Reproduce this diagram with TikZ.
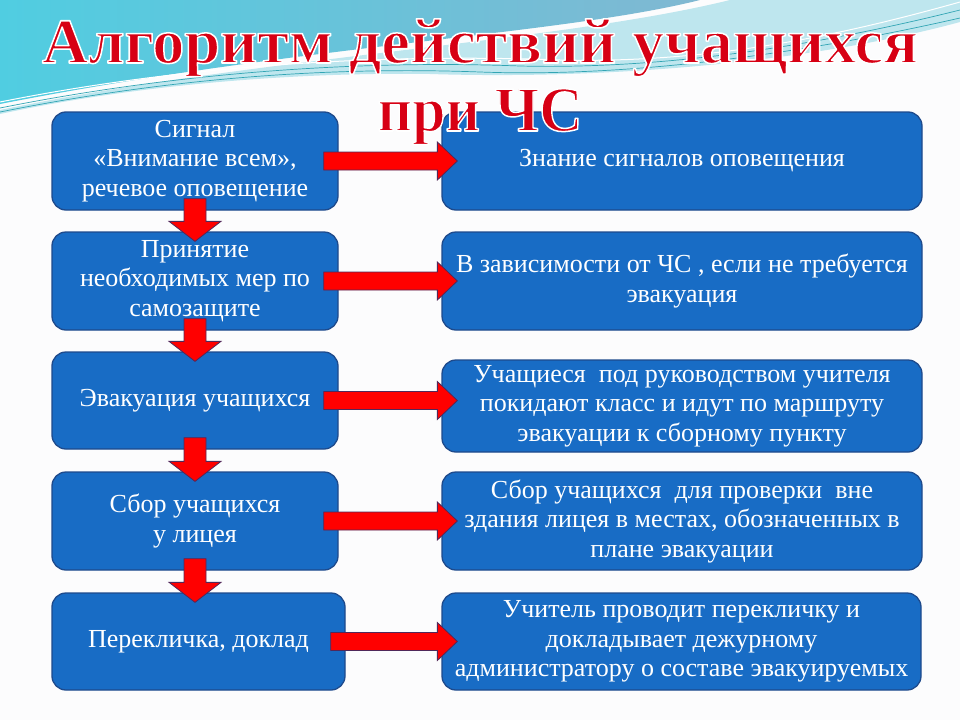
\documentclass[tikz,border=0pt]{standalone}
\usepackage{fontspec}
\setmainfont{Liberation Serif}
\newfontfamily\titlefont{Liberation Serif}
\usetikzlibrary{calc}
\definecolor{bgwhite}{RGB}{252,252,253}
\definecolor{boxblue}{RGB}{24,108,197}
\definecolor{boxedge}{RGB}{30,74,140}
\definecolor{arrred}{RGB}{255,0,0}
\definecolor{arredge}{RGB}{80,40,90}
\definecolor{titlered}{RGB}{215,0,20}
\definecolor{skyA}{RGB}{128,184,210}
\definecolor{skyB}{RGB}{80,205,225}
\definecolor{skyC}{RGB}{190,230,238}
\definecolor{tealline}{RGB}{50,165,180}
\newcommand\outlined[1]{\special{pdf:literal direct 2 Tr 1.5 w 1 1 1 RG 1 j}#1\special{pdf:literal direct 0 Tr}}
\newcommand\hArrow[2]{\path let \p1=(#1.east), \p2=(#2.west) in [fatarrow]
  (\x1-15,\y1+9) -- (\x2-4,\y1+9) -- (\x2-4,\y1+19) -- (\x2+16,\y1) -- (\x2-4,\y1-19) -- (\x2-4,\y1-9) -- (\x1-15,\y1-9) -- cycle;}
\newcommand\vArrow[2]{\path let \p1=(#1.south), \p2=(#2.north) in [fatarrow]
  (\x1-11,\y1+12) -- (\x1-11,\y2+10) -- (\x1-26,\y2+10) -- (\x1,\y2-10) -- (\x1+26,\y2+10) -- (\x1+11,\y2+10) -- (\x1+11,\y1+12) -- cycle;}
\begin{document}
\begin{tikzpicture}[x=1pt,y=-1pt,
  box/.style={rectangle, rounded corners=14pt, fill=boxblue, draw=boxedge, line width=1.3pt,
    text=white, align=center, inner sep=2pt, font=\fontsize{26}{29.5}\selectfont},
  lbox/.style={box, minimum width=286pt, minimum height=98pt},
  rbox/.style={box, minimum width=480pt, minimum height=98pt},
  fatarrow/.style={fill=arrred, draw=arredge, line width=0.8pt, line join=miter},
  swoosh/.style={draw=tealline, line width=0.7pt},
  ttl/.style={font=\titlefont\bfseries\fontsize{64}{68}\selectfont, inner sep=0pt, anchor=base, text=titlered}]
\useasboundingbox (0,0) rectangle (960,720);
\fill[bgwhite] (0,0) rectangle (960,720);
% background swooshes
\shade[left color=skyB, right color=skyA] (0,0) -- (700,0) .. controls (560,35) and (300,45) .. (0,104) -- cycle;
\fill[skyC] (730,0) -- (960,0) -- (960,22) .. controls (820,60) and (620,80) .. (430,74) .. controls (300,72) and (140,84) .. (0,114) -- (0,110) .. controls (250,58) and (560,42) .. (730,0) -- cycle;
\draw[swoosh] (0,112) .. controls (160,80) and (320,66) .. (480,72) .. controls (640,78) and (820,50) .. (960,18);
\draw[swoosh] (0,108) .. controls (180,72) and (360,60) .. (520,66) .. controls (680,70) and (840,40) .. (960,10);
\draw[swoosh, draw=white, line width=1pt] (0,102) .. controls (200,62) and (400,54) .. (560,60) .. controls (720,64) and (860,30) .. (960,2);
% boxes
\node[lbox] (L1) at (195,161) {Сигнал\\«Внимание всем»,\\речевое оповещение};
\node[lbox] (L2) at (195,281) {Принятие\\необходимых мер по\\самозащите};
\node[lbox, minimum height=97pt] (L3) at (195,400.5) {Эвакуация учащихся};
\node[lbox] (L4) at (195,521) {Сбор учащихся\\у лицея};
\node[lbox, minimum width=293pt, minimum height=97pt] (L5) at (198.5,641.5) {Перекличка, доклад};
\node[rbox] (R1) at (682,161) {Знание сигналов оповещения};
\node[rbox] (R2) at (682,281) {В зависимости от ЧС , если не требуется\\эвакуация};
\node[rbox, minimum height=92pt] (R3) at (682,406) {Учащиеся\ \ под руководством учителя\\покидают класс и идут по маршруту\\эвакуации к сборному пункту};
\node[rbox] (R4) at (682,521) {Сбор учащихся\ \ для проверки\ \ вне\\здания лицея в местах, обозначенных в\\плане эвакуации};
\node[rbox, minimum width=479pt, minimum height=97pt] (R5) at (681.5,641.5) {Учитель проводит перекличку и\\докладывает дежурному\\администратору о составе эвакуируемых};
% arrows
\hArrow{L1}{R1}
\hArrow{L2}{R2}
\hArrow{L3}{R3}
\hArrow{L4}{R4}
\hArrow{L5}{R5}
\vArrow{L1}{L2}
\vArrow{L2}{L3}
\vArrow{L3}{L4}
\vArrow{L4}{L5}
% title on top
\node[ttl] (T1) at (480,63) {\resizebox{876pt}{\height}{\outlined{Алгоритм действий учащихся}}};
\node[ttl] (T2) at (480,131) {\resizebox{205pt}{\height}{\outlined{при ЧС}}};
\end{tikzpicture}
\end{document}
